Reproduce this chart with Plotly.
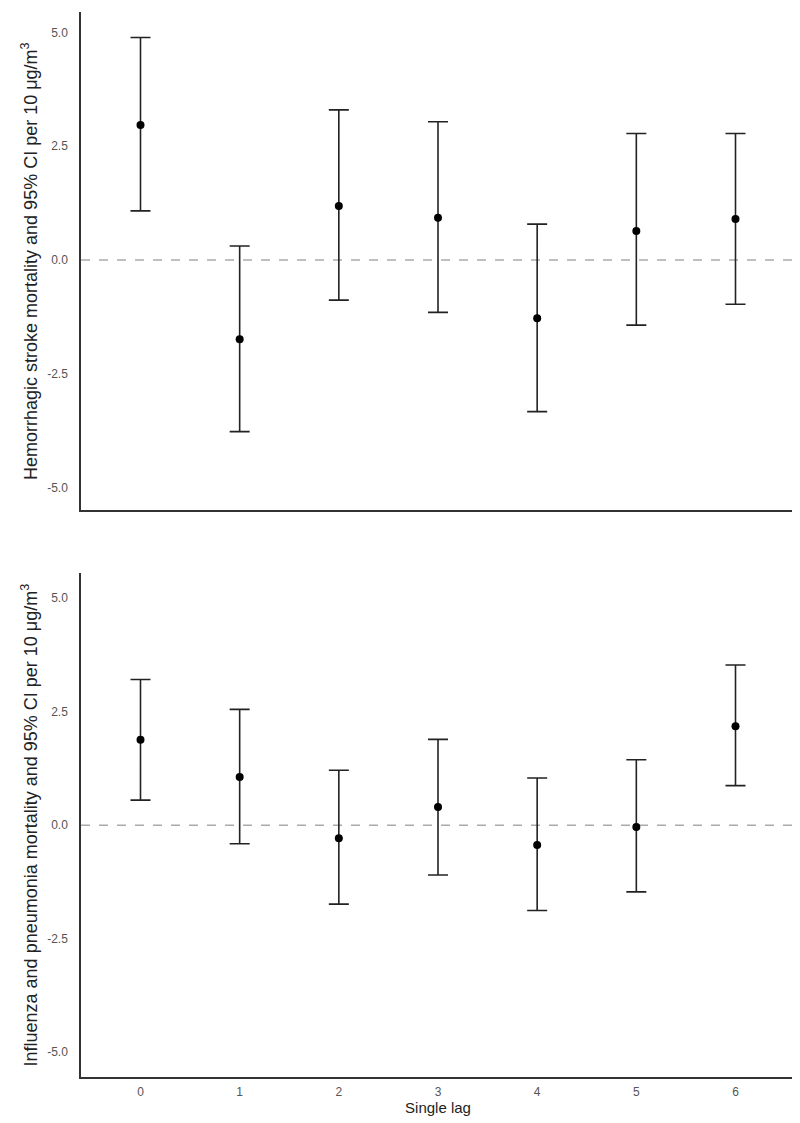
import plotly.graph_objects as go

lags = [0, 1, 2, 3, 4, 5, 6]
tick_labels = ["0", "1", "2", "3", "4", "5", "6"]

hs_est = [2.97, -1.74, 1.19, 0.93, -1.28, 0.64, 0.90]
hs_upper = [4.89, 0.31, 3.30, 3.04, 0.79, 2.78, 2.78]
hs_lower = [1.08, -3.77, -0.88, -1.15, -3.33, -1.43, -0.97]

ip_est = [1.88, 1.06, -0.29, 0.40, -0.44, -0.04, 2.18]
ip_upper = [3.21, 2.55, 1.21, 1.89, 1.04, 1.44, 3.53]
ip_lower = [0.55, -0.41, -1.74, -1.10, -1.88, -1.47, 0.87]

y_ticks = [-5.0, -2.5, 0.0, 2.5, 5.0]
y_ticktext = ["-5.0", "-2.5", "0.0", "2.5", "5.0"]

fig = go.Figure()

def add_panel(est, up, lo, xa, ya):
    fig.add_trace(go.Scatter(
        x=lags, y=est, mode="markers",
        marker=dict(color="black", size=8),
        error_y=dict(type="data", symmetric=False,
                     array=[u - e for u, e in zip(up, est)],
                     arrayminus=[e - l for e, l in zip(est, lo)],
                     color="#222222", thickness=1.6, width=10),
        xaxis=xa, yaxis=ya, showlegend=False))

add_panel(hs_est, hs_upper, hs_lower, "x", "y")
add_panel(ip_est, ip_upper, ip_lower, "x2", "y2")

for xr, yr in [("x", "y"), ("x2", "y2")]:
    fig.add_shape(type="line", xref=f"{xr} domain", yref=yr, x0=0, x1=1, y0=0, y1=0,
                  line=dict(color="#aaaaaa", width=1.5, dash="dash"), layer="below")

axis_common = dict(showgrid=False, zeroline=False, showline=True,
                   linecolor="#333333", linewidth=1.5,
                   tickfont=dict(family="Liberation Sans, Arial", size=12, color="#555555"))

title_font = dict(family="Liberation Sans, Arial", size=18, color="#222222")

fig.update_layout(
    width=800, height=1123,
    paper_bgcolor="white", plot_bgcolor="white",
    margin=dict(l=73, r=13, t=4, b=54, autoexpand=False),
    font=dict(family="Liberation Sans, Arial", color="#222222"),
    xaxis=dict(domain=[0, 1], range=[-0.6, 6.6], anchor="y",
               tickvals=lags, showticklabels=False, ticks="", **axis_common),
    yaxis=dict(domain=[0.532, 1], range=[-5.5, 5.45], anchor="x",
               tickvals=y_ticks, ticktext=y_ticktext, ticks="", ticklabelstandoff=9,
               title=dict(text="Hemorrhagic stroke mortality and 95% CI per 10 μg/m<sup>3</sup>",
                          font=title_font, standoff=5),
               **axis_common),
    xaxis2=dict(domain=[0, 1], range=[-0.6, 6.6], anchor="y2",
                tickvals=lags, ticktext=tick_labels, ticks="", ticklabelstandoff=3,
                title=dict(text="Single lag", font=dict(family="Liberation Sans, Arial", size=15, color="#222222"),
                           standoff=3),
                **axis_common),
    yaxis2=dict(domain=[0, 0.473], range=[-5.55, 5.55], anchor="x2",
                tickvals=y_ticks, ticktext=y_ticktext, ticks="", ticklabelstandoff=9,
                title=dict(text="Influenza and pneumonia mortality and 95% CI per 10 μg/m<sup>3</sup>",
                           font=title_font, standoff=5),
                **axis_common),
)

fig.write_html("out.html")
